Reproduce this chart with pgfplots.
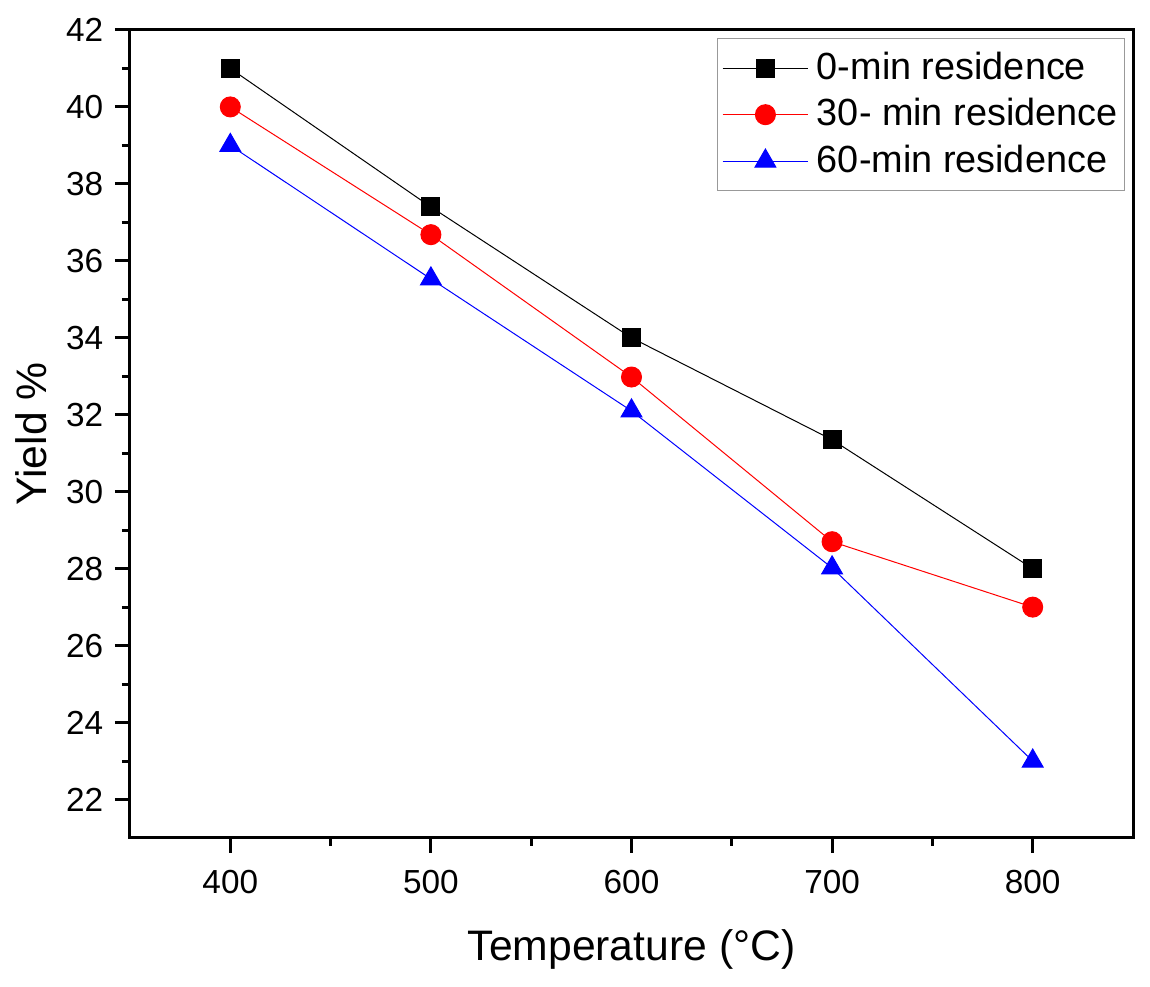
\documentclass[border=0pt]{standalone}
\usepackage{fontspec}
\setmainfont{Liberation Sans}
\usepackage{pgfplots}
\pgfplotsset{compat=1.18}
\begin{document}
\begin{tikzpicture}
\begin{axis}[
  scale only axis,
  width=300.9pt, height=242.4pt,
  xmin=350, xmax=850, ymin=21, ymax=42,
  xtick={400,500,600,700,800},
  ytick={22,24,26,28,30,32,34,36,38,40,42},
  minor x tick num=1, minor y tick num=1,
  tick align=outside,
  xtick pos=bottom, ytick pos=left,
  major tick length=4.5pt, minor tick length=2.4pt,
  axis line style={line width=0.9pt},
  every tick/.style={black, line width=0.9pt},
  /pgf/number format/assume math mode=true,
  /pgf/number format/1000 sep={},
  tick label style={font=\fontsize{10}{11}\selectfont},
  xticklabel style={yshift=-1.5pt},
  yticklabel style={xshift=0pt},
  xlabel={Temperature (°C)},
  ylabel={Yield \%},
  label style={font=\fontsize{12.8}{14}\selectfont},
  xlabel style={yshift=-4pt},
  ylabel style={yshift=-1pt},
  legend style={at={(0.992,0.990)}, anchor=north east, draw=gray!80, line width=0.4pt,
    font=\fontsize{11.35}{13.5}\selectfont, row sep=0.2pt, column sep=2pt,
    inner xsep=1.5pt, inner ysep=2pt, nodes={inner xsep=0.5pt}},
  legend cell align=left,
  legend image code/.code={\draw[mark repeat=2,mark phase=2] plot coordinates {(0cm,0cm) (0.45cm,0cm) (0.9cm,0cm)};},
]
\addplot[black, line width=0.3pt, mark=square*, mark size=2.7pt, mark options={solid, fill=black}]
  coordinates {(400,41) (500,37.4) (600,34) (700,31.35) (800,28)};
\addlegendentry{0-min residence}
\addplot[red, line width=0.3pt, mark=*, mark size=3pt, mark options={solid, fill=red}]
  coordinates {(400,40) (500,36.68) (600,32.98) (700,28.7) (800,27)};
\addlegendentry{30- min residence}
\addplot[blue, line width=0.3pt, mark=triangle*, mark size=3.6pt, mark options={solid, fill=blue}]
  coordinates {(400,39) (500,35.53) (600,32.1) (700,28.02) (800,23)};
\addlegendentry{60-min residence}
\end{axis}
\pgfresetboundingbox
\path[use as bounding box] ([xshift=-39pt,yshift=-44.7pt]current axis.south west) rectangle ([xshift=5.1pt,yshift=9pt]current axis.north east);
\end{tikzpicture}
\end{document}
